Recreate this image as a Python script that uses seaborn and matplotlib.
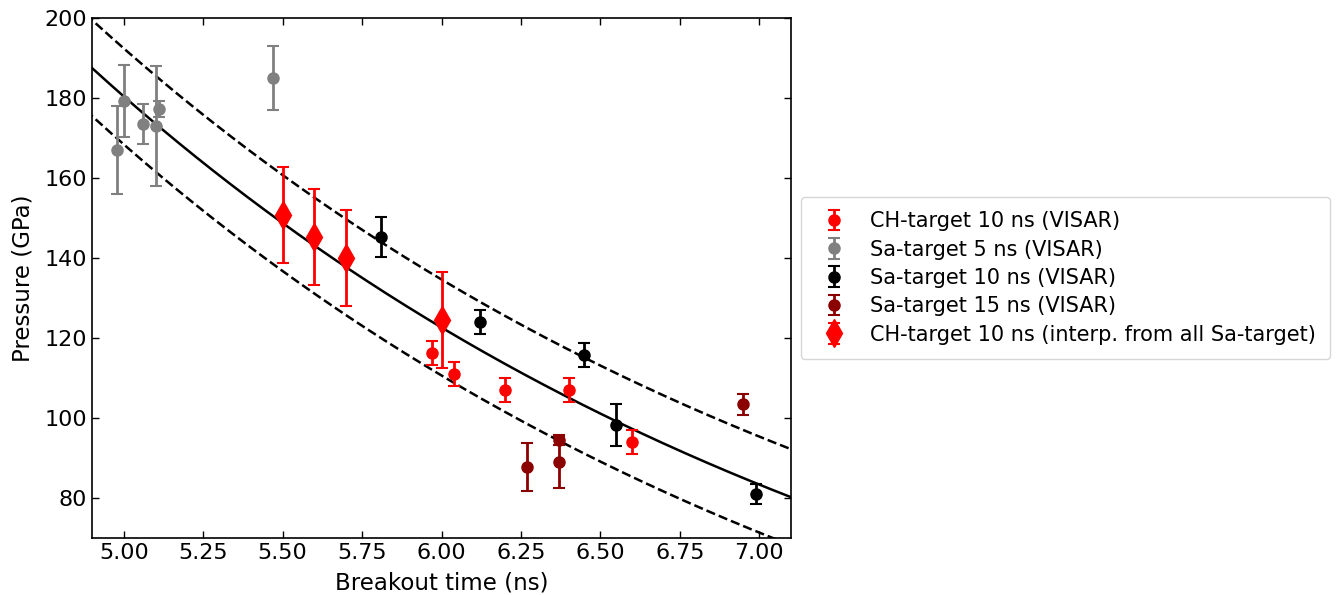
import numpy as np
import pandas as pd
import matplotlib
matplotlib.use("Agg")
import matplotlib.pyplot as plt
import seaborn as sns

# ---- data ----
ch_t = [5.97, 6.04, 6.20, 6.40, 6.60]
ch_p = [116.2, 111.0, 107.0, 107.0, 94.1]
ch_e = [3.0, 3.0, 3.0, 3.0, 3.0]

sa5_t = [4.98, 5.00, 5.06, 5.10, 5.11, 5.47]
sa5_p = [167.0, 179.3, 173.5, 173.0, 177.3, 185.0]
sa5_e = [11.0, 9.0, 5.0, 15.0, 2.0, 8.0]

sa10_t = [5.81, 6.12, 6.45, 6.55, 6.99]
sa10_p = [145.3, 123.9, 115.7, 98.2, 81.0]
sa10_e = [5.0, 3.0, 3.0, 5.3, 2.5]

sa15_t = [6.27, 6.37, 6.37, 6.95]
sa15_p = [87.8, 94.5, 88.9, 103.4]
sa15_e = [6.0, 1.3, 6.5, 2.6]

interp_t = [5.5, 5.6, 5.7, 6.0]
interp_p = [150.8, 145.2, 139.9, 124.5]
interp_e = [12.0, 12.0, 12.0, 12.0]

xtick_vals = [5.0, 5.25, 5.5, 5.75, 6.0, 6.25, 6.5, 6.75, 7.0]
xtick_labels = ["5.00", "5.25", "5.50", "5.75", "6.00", "6.25", "6.50", "6.75", "7.00"]
ytick_vals = [80, 100, 120, 140, 160, 180, 200]

# fit model parameters (exponential), band half-width
fit_A = 187.5
fit_t0 = 4.9
fit_b = 0.386
band = 12.0

sns.set_style("ticks", {"xtick.direction": "in", "ytick.direction": "in",
                        "text.color": "black", "axes.labelcolor": "black",
                        "xtick.color": "black", "ytick.color": "black",
                        "axes.edgecolor": "black"})
plt.rcParams['font.family'] = ['DejaVu Sans']

fig = plt.figure(figsize=(13.42, 5.95), dpi=100)
ax = fig.add_axes([92/1342, 1-538/595, (791-92)/1342, (538-18)/595])

tt = np.linspace(4.85, 7.15, 300)
fit = fit_A * np.exp(-fit_b * (tt - fit_t0))
df = pd.DataFrame({"t": tt, "fit": fit, "up": fit + band, "lo": fit - band})
sns.lineplot(data=df, x="t", y="fit", ax=ax, color="black", lw=1.8, zorder=2)
sns.lineplot(data=df, x="t", y="up", ax=ax, color="black", lw=1.8, ls="--", zorder=2)
sns.lineplot(data=df, x="t", y="lo", ax=ax, color="black", lw=1.8, ls="--", zorder=2)

kw = dict(ls="none", capsize=4, elinewidth=2, capthick=1.5, zorder=3)
ax.errorbar(ch_t, ch_p, yerr=ch_e, fmt="o", color="red", ms=8, label="CH-target 10 ns (VISAR)", **kw)
ax.errorbar(sa5_t, sa5_p, yerr=sa5_e, fmt="o", color="gray", ms=8, label="Sa-target 5 ns (VISAR)", **kw)
ax.errorbar(sa10_t, sa10_p, yerr=sa10_e, fmt="o", color="black", ms=8, label="Sa-target 10 ns (VISAR)", **kw)
ax.errorbar(sa15_t, sa15_p, yerr=sa15_e, fmt="o", color="darkred", ms=8, label="Sa-target 15 ns (VISAR)", **kw)
ax.errorbar(interp_t, interp_p, yerr=interp_e, fmt="d", color="red", ms=14,
            label="CH-target 10 ns (interp. from all Sa-target)", **kw)

ax.set_xlim(4.9, 7.1)
ax.set_ylim(70, 200)
ax.set_xticks(xtick_vals)
ax.set_xticklabels(xtick_labels)
ax.set_yticks(ytick_vals)
ax.tick_params(axis="both", which="both", direction="in", top=True, right=True,
               labelsize=16, length=5, width=1, colors="black")
for s in ax.spines.values():
    s.set_linewidth(1.2)
    s.set_color("black")
ax.set_xlabel("Breakout time (ns)", fontsize=16.5, labelpad=6)
ax.set_ylabel("Pressure (GPa)", fontsize=16.5, labelpad=7)

ax.legend(loc="center left", bbox_to_anchor=(1.014, 0.5), borderaxespad=0, fontsize=15,
          frameon=True, handlelength=1.8, handletextpad=0.8, borderpad=0.7, labelspacing=0.4)

fig.savefig("out.png", dpi=100)
